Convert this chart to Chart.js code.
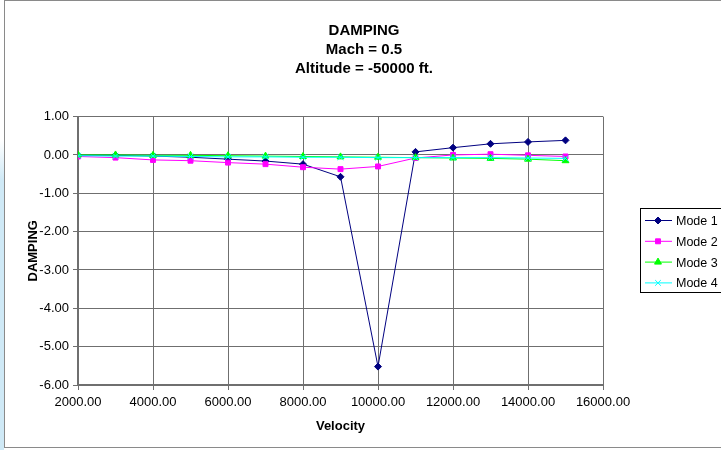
<!DOCTYPE html>
<html>
<head>
<meta charset="utf-8">
<script src="https://cdn.jsdelivr.net/npm/chart.js@4.4.0/dist/chart.umd.min.js"></script>
<style>
  html, body { margin: 0; padding: 0; background: #fff; }
  #wrap { position: relative; width: 721px; height: 450px; overflow: hidden; }
  #strip { position: absolute; left: 0; top: 140px; width: 4px; height: 310px;
           background: linear-gradient(#ffffff, #cfe9f6 40px, #cfe9f6); }
  #frame { position: absolute; left: 4px; top: 0; width: 800px; height: 446px;
           border: 1px solid #8a8a8a; pointer-events: none; }
  canvas { position: absolute; left: 0; top: 0; }
</style>
</head>
<body>
<div id="wrap">
  <div id="strip"></div>
  <canvas id="grafico" width="721" height="450"></canvas>
  <div id="frame"></div>
</div>
<script>
const velocidades = [2000, 3000, 4000, 5000, 6000, 7000, 8000, 9000, 10000, 11000, 12000, 13000, 14000, 15000];
const modo1 = [-0.01, -0.01, -0.03, -0.06, -0.11, -0.16, -0.24, -0.57, -5.52, 0.08, 0.19, 0.29, 0.34, 0.38];
const modo2 = [-0.04, -0.07, -0.13, -0.15, -0.2, -0.24, -0.32, -0.37, -0.3, -0.08, 0.0, 0.02, -0.01, -0.04];
const modo3 = [0.0, 0.0, -0.01, -0.01, -0.02, -0.03, -0.04, -0.05, -0.06, -0.07, -0.08, -0.09, -0.11, -0.15];
const modo4 = [-0.02, -0.03, -0.03, -0.04, -0.05, -0.05, -0.06, -0.06, -0.07, -0.07, -0.07, -0.07, -0.08, -0.09];
const nomesModos = ["Mode 1", "Mode 2", "Mode 3", "Mode 4"];
const titulo = ["DAMPING", "Mach = 0.5", "Altitude = -50000 ft."];

const fonte = "'Liberation Sans', Arial, sans-serif";

function pontos(valores) {
  return velocidades.map((v, i) => ({ x: v, y: valores[i] }));
}

const estilos = [
  { cor: "#000080", ponto: "rectRot", raio: 3.5, ordem: 3 },
  { cor: "#ff00ff", ponto: "rect", raio: 3.5, ordem: 2 },
  { cor: "#00ff00", ponto: "triangle", raio: 4, ordem: 1 },
  { cor: "#00ffff", ponto: "crossRot", raio: 4, ordem: 0 }
];

const series = [modo1, modo2, modo3, modo4];

// legenda no estilo do Excel, com caixa
const legendaCaixa = {
  id: "legendaCaixa",
  afterDraw(chart) {
    const ctx = chart.ctx;
    const x0 = 640, y0 = 208, w = 84, h = 84;
    ctx.save();
    ctx.strokeStyle = "#000";
    ctx.lineWidth = 1;
    ctx.strokeRect(x0 + 0.5, y0 + 0.5, w, h);
    chart.data.datasets.forEach((ds, i) => {
      const y = y0 + 12.5 + i * 20.8;
      ctx.strokeStyle = ds.borderColor;
      ctx.fillStyle = ds.backgroundColor;
      ctx.lineWidth = 1;
      ctx.beginPath();
      ctx.moveTo(x0 + 5, y);
      ctx.lineTo(x0 + 32, y);
      ctx.stroke();
      Chart.helpers.drawPoint(ctx, {
        pointStyle: ds.pointStyle,
        radius: ds.pointRadius,
        borderWidth: 1
      }, x0 + 18, y);
      ctx.fillStyle = "#000";
      ctx.font = "12.5px " + fonte;
      ctx.textBaseline = "middle";
      ctx.fillText(ds.label, x0 + 36, y + 1);
    });
    ctx.restore();
  }
};

new Chart(document.getElementById("grafico"), {
  type: "line",
  data: {
    datasets: series.map((s, i) => ({
      label: nomesModos[i],
      data: pontos(s),
      borderColor: estilos[i].cor,
      backgroundColor: estilos[i].cor,
      pointBorderColor: estilos[i].cor,
      pointBackgroundColor: estilos[i].cor,
      borderWidth: 1,
      pointStyle: estilos[i].ponto,
      pointRadius: estilos[i].raio,
      pointBorderWidth: 1,
      order: estilos[i].ordem,
      tension: 0
    }))
  },
  options: {
    responsive: false,
    animation: false,
    events: [],
    layout: { padding: { left: 7, right: 0, top: 0, bottom: 12 } },
    plugins: {
      legend: { display: false },
      tooltip: { enabled: false },
      title: {
        display: true,
        text: titulo,
        color: "#000",
        font: { family: fonte, size: 15, weight: "bold", lineHeight: 1.28 },
        padding: { top: 21, bottom: 38 }
      }
    },
    scales: {
      x: {
        type: "linear",
        min: 2000,
        max: 16000,
        afterFit: s => { s.height = 53; },
        ticks: {
          stepSize: 2000,
          color: "#000",
          font: { family: fonte, size: 13 },
          padding: 5,
          maxRotation: 0,
          callback: v => v.toFixed(2)
        },
        grid: { color: "#6f6f6f", lineWidth: 1, tickLength: 5, drawTicks: true },
        border: { color: "#6f6f6f", width: 2 },
        title: {
          display: true,
          text: "Velocity",
          color: "#000",
          font: { family: fonte, size: 13, weight: "bold" },
          padding: { top: 0, bottom: 4 }
        }
      },
      y: {
        min: -6,
        max: 1,
        afterFit: s => { s.width = 71; },
        ticks: {
          stepSize: 1,
          color: "#000",
          font: { family: fonte, size: 13 },
          padding: 4,
          callback: v => v.toFixed(2)
        },
        grid: { color: "#6f6f6f", lineWidth: 1, tickLength: 5, drawTicks: true },
        border: { color: "#6f6f6f", width: 2 },
        title: {
          display: true,
          text: "DAMPING",
          color: "#000",
          font: { family: fonte, size: 13, weight: "bold" },
          padding: { top: 19, bottom: 0 }
        }
      },
      // espaco reservado para a legenda, do lado direito
      espacoLegenda: {
        position: "right",
        afterFit: s => { s.width = 118; },
        ticks: { display: false },
        grid: { display: false },
        border: { display: false }
      }
    }
  },
  plugins: [legendaCaixa]
});
</script>
</body>
</html>
